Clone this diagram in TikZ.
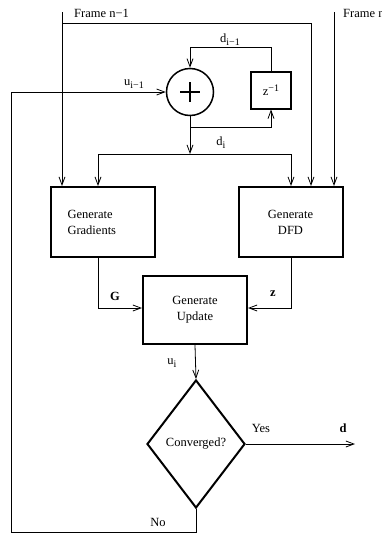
\documentclass[tikz,border=0pt]{standalone}
\usepackage{fontspec}
\setmainfont{Liberation Serif}
\usetikzlibrary{arrows.meta,shapes.geometric,calc}
\newcommand\mysub[1]{\raisebox{-3pt}{\fontsize{10}{10}\selectfont #1}}
\newcommand\mysup[1]{\raisebox{4pt}{\fontsize{10}{10}\selectfont #1}}
\begin{document}
\begin{tikzpicture}[x=1pt,y=-1pt,
  thinline/.style={line width=0.8pt},
  arr/.style={thinline,-{Straight Barb[length=8pt,width=6pt]}},
  blockbox/.style={draw,line width=2pt,inner sep=0pt,font=\fontsize{12.5}{16}\selectfont},
  lbl/.style={font=\fontsize{12.5}{16}\selectfont,inner sep=0pt}]
\useasboundingbox (0,0) rectangle (382,533);

% blocks
\node[blockbox,minimum width=104pt,minimum height=70pt,text width=70pt,align=left,inner xsep=17pt] (grad) at (102.5,222) {Generate\\Gradients};
\node[blockbox,minimum width=104pt,minimum height=70pt,align=center] (dfd) at (290.5,222) {Generate\\DFD};
\node[blockbox,minimum width=104pt,minimum height=68pt,align=center] (upd) at (195,310) {Generate\\Update};
\node[draw,circle,line width=1.5pt,minimum size=47pt,inner sep=0pt] (sum) at (190,92) {};
\draw[line width=2pt] ($(sum.center)+(-10,0)$) -- ($(sum.center)+(10,0)$);
\draw[line width=2pt] ($(sum.center)+(0,-10)$) -- ($(sum.center)+(0,10)$);
\node[blockbox,minimum width=40pt,minimum height=37pt] (zb) at (271,90) {z\mysup{−1}};
\node[draw,diamond,line width=2pt,minimum width=98pt,minimum height=128pt,inner sep=0pt,font=\fontsize{12.5}{16}\selectfont] (dia) at (196,444) {Converged?};

% frame inputs
\node[lbl,anchor=west] (fnl) at (74,13) {Frame n−1};
\node[lbl,anchor=west] (fnr) at (343,13) {Frame n};
\coordinate (a1) at (62,12);
\coordinate (a1b) at (62,23);
\coordinate (a1r) at (311,23);
\coordinate (a2) at (334,12);
\draw[arr] (a1) -- (a1 |- grad.north);
\draw[thinline] (a1b) -- (a1r);
\draw[arr] (a1r) -- (a1r |- dfd.north);
\draw[arr] (a2) -- (a2 |- dfd.north);

% delay loop
\coordinate (dtop) at (190,47);
\draw[arr] (zb.north) |- (dtop) -- (sum.north);
\coordinate (dj) at (190,154);
\draw[arr] (sum.south) -- (dj);
\coordinate (fb) at (190,127);
\draw[arr] (fb) -| (zb.south);
\coordinate (dl) at (98,154);
\coordinate (dr) at (291,154);
\draw[thinline] (dl) -- (dr);
\draw[arr] (dl) -- (dl |- grad.north);
\draw[arr] (dr) -- (dr |- dfd.north);

% to update
\coordinate (gy) at (0,308);
\draw[arr] (dl |- grad.south) |- (upd.west |- gy);
\draw[arr] (dr |- dfd.south) |- (upd.east |- gy);
\draw[arr] (upd.south) -- (dia.north);
\coordinate (dout) at (355,444);
\draw[arr] (dia.east) -- (dout);
\coordinate (nbl) at (11,532);
\draw[arr] (dia.south) |- (nbl) |- (sum.west);

% labels
\node[lbl] (ldi1) at (230,40) {d\mysub{i−1}};
\node[lbl] (lui1) at (134,84) {u\mysub{i−1}};
\node[lbl] (ldi) at (221,143) {d\mysub{i}};
\node[lbl] (lG) at (115,296) {\textbf{G}};
\node[lbl] (lz) at (273,294) {\textbf{z}};
\node[lbl] (lui) at (172,363) {u\mysub{i}};
\node[lbl] (lyes) at (261,428) {Yes};
\node[lbl] (ld) at (343,428) {\textbf{d}};
\node[lbl] (lno) at (158,522) {No};
\end{tikzpicture}
\end{document}
